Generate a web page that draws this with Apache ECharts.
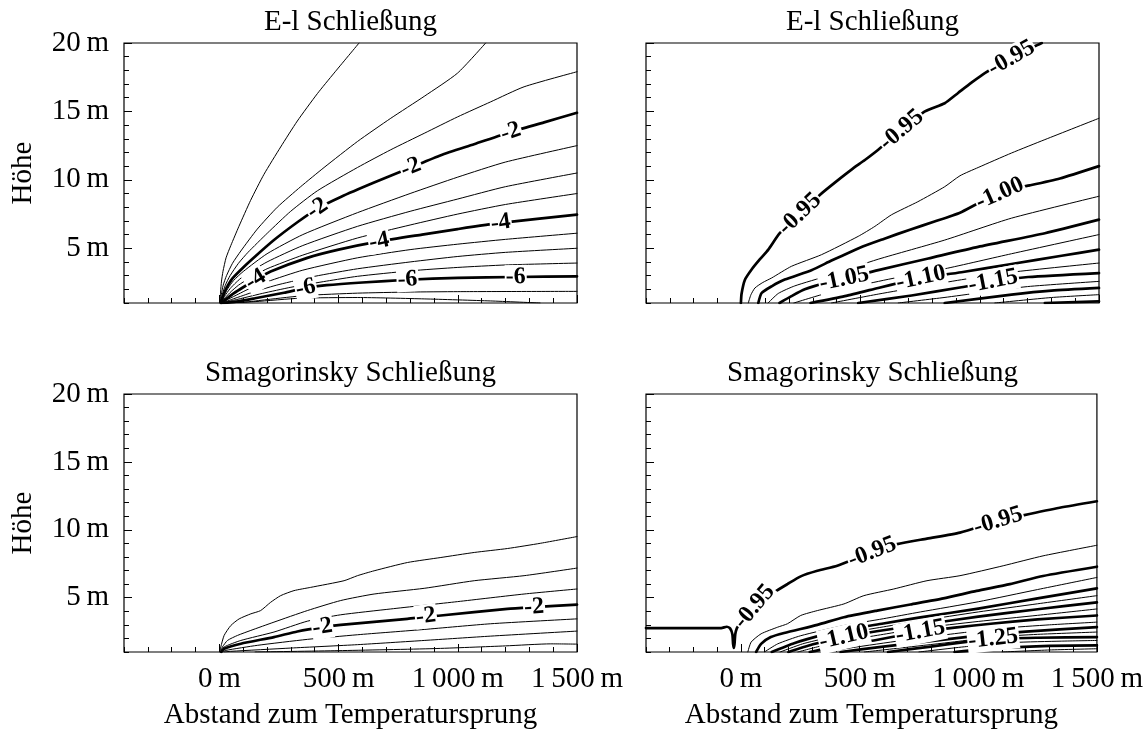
<!DOCTYPE html>
<html>
<head>
<meta charset="utf-8">
<script src="https://cdn.jsdelivr.net/npm/echarts@6/dist/echarts.min.js"></script>
<style>html,body{margin:0;padding:0;background:#fff}#c{width:1146px;height:731px}</style>
</head>
<body>
<div id="c"></div>
<script>
// ---------- tick labels and titles ----------
const xTickValues = [0, 500, 1000, 1500];
const xTickLabels = ['0\u2009m', '500\u2009m', '1\u2009000\u2009m', '1\u2009500\u2009m'];
const yTickValues = [5, 10, 15, 20];
const yTickLabels = ['5\u2009m', '10\u2009m', '15\u2009m', '20\u2009m'];
const panelTitles = ['E-l Schließung', 'E-l Schließung', 'Smagorinsky Schließung', 'Smagorinsky Schließung'];
const xAxisTitle = 'Abstand zum Temperatursprung';
const yAxisTitle = 'Höhe';

// ---------- panel 1: E-l, top left ----------
const levelsTL = [-0.5, -1, -1.5, -2, -2.5, -3, -3.5, -4, -4.5, -5, -5.5, -6, -6.5, -7];
const boldTL = [3, 7, 11];
const linesTL = [
  [[3,1.0],[5,1.8],[9,2.6],[15,3.3],[28,4.3],[48,5.2],[82,6.6],[131,8.5],[187,10.4],[257,12.4],[327,14.3],[411,16.3],[481,17.8],[586,20]],
  [[4,1],[8,1.6],[16,2.3],[30,3.0],[55,3.9],[90,4.8],[159,6.4],[243,8.0],[341,9.5],[439,10.9],[579,12.8],[719,14.5],[859,16.1],[999,17.8],[1117,20]],
  [[5,1],[12,1.6],[25,2.3],[45,3.0],[80,3.9],[120,4.7],[201,6.1],[299,7.7],[411,9.2],[579,10.9],[719,12.2],[859,13.4],[999,14.6],[1138,15.7],[1278,16.8],[1500,17.9]],
  [[6,1],[15,1.5],[30,2.1],[55,2.8],[100,3.6],[150,4.4],[229,5.6],[327,6.9],[411,7.9],[509,8.75],[649,9.8],[803,10.9],[929,11.8],[1068,12.6],[1222,13.5],[1362,14.2],[1500,14.9]],
  [[6,1.0],[18,1.5],[35,2.05],[60,2.65],[100,3.3],[200,4.6],[350,6.0],[579,7.6],[800,9.0],[1000,10.2],[1200,11.3],[1500,12.5]],
  [[7,1.0],[22,1.5],[45,2.05],[70,2.5],[100,2.95],[200,4.0],[350,5.2],[579,6.6],[800,7.7],[1000,8.6],[1200,9.5],[1500,10.5]],
  [[7,1.0],[25,1.4],[50,1.85],[80,2.3],[120,2.75],[200,3.5],[350,4.5],[579,5.75],[800,6.7],[1000,7.5],[1200,8.2],[1500,9.0]],
  [[8,1.0],[30,1.3],[60,1.7],[100,2.15],[152,2.7],[215,3.3],[369,4.3],[500,4.9],[670,5.5],[850,6.0],[999,6.4],[1180,6.85],[1500,7.46]],
  [[9,1.0],[40,1.3],[80,1.65],[120,2.0],[200,2.55],[350,3.4],[579,4.3],[800,4.9],[1000,5.3],[1200,5.65],[1500,6.1]],
  [[10,1.0],[50,1.25],[100,1.55],[150,1.85],[250,2.35],[400,2.95],[579,3.5],[800,4.0],[1000,4.4],[1200,4.7],[1500,5.0]],
  [[11,1.0],[60,1.2],[120,1.45],[180,1.7],[300,2.15],[450,2.6],[579,2.95],[800,3.35],[1000,3.6],[1200,3.78],[1500,3.92]],
  [[12,1.0],[70,1.1],[150,1.35],[271,1.75],[362,2.1],[450,2.3],[600,2.5],[789,2.7],[1000,2.84],[1243,2.9],[1500,2.95]],
  [[14,1.0],[100,1.05],[200,1.25],[362,1.55],[579,1.72],[800,1.8],[1000,1.83],[1500,1.85]],
  [[16,1.0],[150,1.1],[338,1.35],[579,1.4],[859,1.3],[1138,1.15],[1345,1.0]]
];
const labelsTL = [[3, [411, 803, 1222]], [7, [152, 670, 1180]], [11, [362, 789, 1243]]];

// ---------- panel 2: E-l, top right ----------
const levelsTR = [-0.95, -0.975, -1.0, -1.025, -1.05, -1.075, -1.1, -1.125, -1.15, -1.175, -1.2, -1.225, -1.25];
const boldTR = [0, 2, 4, 6, 8, 10, 12];
const linesTR = [
  [[-2,1.0],[1,1.7],[15,2.7],[43,3.45],[78,4.2],[113,4.9],[161,6.1],[245,7.5],[329,8.9],[392,9.8],[462,10.75],[518,11.45],[574,12.2],[672,13.65],[770,15.0],[853,15.6],[909,16.35],[965,17.1],[1021,17.8],[1133,18.9],[1231,19.76],[1260,20]],
  [[29,1.0],[40,1.6],[57,2.1],[90,2.5],[127,2.83],[210,3.68],[336,4.53],[490,5.87],[560,6.6],[630,7.45],[740,8.4],[853,9.5],[917,10.3],[993,10.9],[1133,11.96],[1273,12.94],[1500,14.5]],
  [[71,1.0],[85,1.73],[127,2.22],[182,2.71],[294,3.4],[378,4.1],[497,5.04],[600,5.7],[707,6.36],[810,6.95],[917,7.6],[1000,8.35],[1084,9.0],[1150,9.4],[1210,9.6],[1336,10.1],[1500,11.0]],
  [[112,1.0],[155,1.7],[224,2.25],[364,3.0],[574,4.2],[853,5.6],[1133,7.2],[1500,8.8]],
  [[160,1.0],[210,1.5],[266,2.0],[350,2.45],[431,2.75],[574,3.4],[784,4.25],[993,5.1],[1273,6.1],[1500,7.09]],
  [[220,1.0],[364,1.75],[500,2.3],[650,2.85],[853,3.5],[1133,4.6],[1500,6.0]],
  [[290,1.0],[434,1.5],[574,2.1],[680,2.55],[753,2.83],[923,3.25],[1133,3.85],[1343,4.45],[1500,4.9]],
  [[378,1.0],[574,1.65],[753,2.2],[923,2.7],[1133,3.25],[1500,3.92]],
  [[490,1.0],[714,1.55],[923,2.15],[1056,2.6],[1203,2.9],[1500,3.19]],
  [[658,1.0],[850,1.4],[1000,1.75],[1200,2.2],[1500,2.58]],
  [[853,1.0],[1133,1.61],[1300,1.9],[1500,2.1]],
  [[1063,1.0],[1300,1.4],[1500,1.61]],
  [[1273,1.0],[1500,1.12]]
];
const labelsTR = [[0, [245, 672, 1133]], [2, [1084]], [4, [431]], [6, [753]], [8, [1056]]];

// ---------- panel 3: Smagorinsky, bottom left ----------
const levelsBL = [-0.5, -1, -1.5, -2, -2.5, -3, -3.5];
const boldBL = [3];
const linesBL = [
  [[2,1.0],[6,1.37],[20,2.22],[48,2.95],[83,3.44],[132,3.81],[173,4.05],[215,4.66],[257,5.15],[313,5.52],[383,5.76],[523,6.25],[579,6.62],[649,6.98],[789,7.59],[929,7.96],[1069,8.33],[1208,8.62],[1348,9.01],[1500,9.5]],
  [[4,1.0],[13,1.37],[34,1.85],[76,2.22],[132,2.59],[229,3.2],[369,4.05],[509,4.79],[649,5.27],[859,5.69],[1069,6.25],[1278,6.62],[1500,7.18]],
  [[6,1.0],[20,1.37],[90,1.85],[229,2.47],[369,3.27],[509,3.74],[719,4.17],[999,4.71],[1278,5.27],[1500,5.64]],
  [[8,1.0],[20,1.24],[90,1.61],[229,2.1],[327,2.51],[432,2.83],[509,3.0],[789,3.44],[866,3.62],[929,3.69],[1208,4.17],[1320,4.3],[1500,4.49]],
  [[10,1.0],[27,1.12],[159,1.49],[369,1.93],[579,2.27],[859,2.66],[1138,3.08],[1500,3.44]],
  [[20,1.0],[48,1.05],[299,1.29],[579,1.54],[859,1.85],[1138,2.17],[1500,2.54]],
  [[150,1.0],[500,1.1],[900,1.25],[1200,1.45],[1390,1.6],[1500,1.58]]
];
const labelsBL = [[3, [432, 866, 1320]]];

// ---------- panel 4: Smagorinsky, bottom right ----------
const levelsBR = [-0.95, -0.975, -1.0, -1.025, -1.05, -1.075, -1.1, -1.125, -1.15, -1.175, -1.2, -1.225, -1.25, -1.275, -1.3, -1.325];
const boldBR = [0, 2, 4, 6, 8, 10, 12, 14];
const linesBR = [
  [[-400,2.76],[-83,2.76],[-60,2.86],[-45,2.72],[-36,2.3],[-33,1.6],[-30,1.3],[-27,1.6],[-24,2.3],[-18,2.72],[-8,3.0],[1,3.2],[57,4.35],[140,5.4],[196,6.0],[252,6.57],[322,6.98],[406,7.35],[553,8.35],[658,8.94],[784,9.35],[923,9.79],[1084,10.65],[1189,11.06],[1343,11.62],[1500,12.1]],
  [[29,1.0],[43,1.73],[85,2.34],[155,2.83],[196,3.08],[252,3.69],[322,4.05],[434,4.54],[518,5.15],[644,5.64],[784,6.25],[923,6.62],[1105,7.35],[1273,8.08],[1500,8.86]],
  [[64,1.0],[85,1.6],[126,2.1],[182,2.4],[322,3.0],[434,3.56],[574,4.05],[714,4.5],[853,4.95],[993,5.5],[1133,6.0],[1273,6.6],[1500,7.28]],
  [[99,1.0],[155,1.6],[252,2.2],[434,2.95],[600,3.45],[756,3.95],[1000,4.7],[1250,5.6],[1500,6.49]],
  [[130,1.0],[224,1.65],[364,2.35],[434,2.62],[600,3.1],[756,3.55],[1000,4.2],[1250,4.95],[1500,5.69]],
  [[165,1.0],[260,1.6],[364,2.05],[434,2.35],[600,2.85],[756,3.3],[1000,3.95],[1250,4.55],[1500,5.15]],
  [[200,1.0],[300,1.55],[434,2.1],[600,2.6],[756,3.0],[1000,3.6],[1250,4.15],[1500,4.66]],
  [[240,1.0],[350,1.5],[480,1.95],[600,2.3],[756,2.75],[1000,3.25],[1250,3.7],[1500,4.17]],
  [[290,1.0],[420,1.45],[560,1.85],[680,2.25],[756,2.5],[900,2.8],[1063,3.1],[1250,3.4],[1500,3.69]],
  [[350,1.0],[500,1.4],[700,1.9],[900,2.35],[1100,2.75],[1300,3.0],[1500,3.2]],
  [[420,1.0],[600,1.4],[800,1.8],[1000,2.2],[1063,2.3],[1200,2.5],[1500,2.83]],
  [[520,1.0],[700,1.35],[900,1.75],[1063,2.1],[1250,2.3],[1500,2.47]],
  [[620,1.0],[800,1.4],[950,1.75],[1063,1.97],[1250,2.05],[1500,2.1]],
  [[750,1.0],[950,1.4],[1150,1.7],[1350,1.8],[1500,1.85]],
  [[900,1.0],[1100,1.3],[1300,1.45],[1500,1.49]],
  [[1100,1.0],[1300,1.15],[1500,1.24]]
];
const labelsBR = [[0, [57, 553, 1084]], [6, [434]], [8, [756]], [12, [1063]]];

// ---------- chart ----------
const FONT = '"Liberation Serif","Times New Roman",Times,serif';
const GRIDS = [
  {left: 124, top: 43, width: 453, height: 260},
  {left: 646, top: 43, width: 453, height: 260},
  {left: 124, top: 394, width: 453, height: 260},
  {left: 646, top: 394, width: 453, height: 260}
];
const PANELS = [
  {levels: levelsTL, bold: boldTL, lines: linesTL, labels: labelsTL, digits: 0},
  {levels: levelsTR, bold: boldTR, lines: linesTR, labels: labelsTR, digits: 2},
  {levels: levelsBL, bold: boldBL, lines: linesBL, labels: labelsBL, digits: 0},
  {levels: levelsBR, bold: boldBR, lines: linesBR, labels: labelsBR, digits: 2}
];
const X_MIN = -400, X_MAX = 1500, Y_MIN = 1, Y_MAX = 20;

const chart = echarts.init(document.getElementById('c'), null, {renderer: 'canvas'});

const grid = GRIDS.map(g => Object.assign({
  show: true, borderColor: '#000', borderWidth: 1.2, backgroundColor: 'transparent', containLabel: false
}, g));

const title = panelTitles.map((t, i) => ({
  text: t,
  left: GRIDS[i].left + GRIDS[i].width / 2,
  top: i < 2 ? 8 : 359,
  textAlign: 'center',
  padding: 0,
  textStyle: {fontFamily: FONT, fontSize: 29, fontWeight: 'normal', color: '#000'}
}));

const xAxis = [], yAxis = [];
GRIDS.forEach((g, i) => {
  const bottomRow = i >= 2, leftCol = i % 2 === 0;
  xAxis.push({
    type: 'value', gridIndex: i, min: X_MIN, max: X_MAX, position: 'bottom',
    axisLine: {show: false, onZero: false}, splitLine: {show: false},
    axisTick: {show: true, inside: true, length: 8, customValues: xTickValues, lineStyle: {color: '#000', width: 1}},
    axisLabel: {show: bottomRow, customValues: xTickValues, margin: 13,
      formatter: v => xTickLabels[xTickValues.indexOf(v)] || '',
      fontFamily: FONT, fontSize: 29, color: '#000'},
    name: bottomRow ? xAxisTitle : '', nameLocation: 'middle', nameGap: 49,
    nameTextStyle: {fontFamily: FONT, fontSize: 29, color: '#000'}
  });
  xAxis.push({
    type: 'value', gridIndex: i, min: X_MIN, max: X_MAX, interval: 100, position: 'bottom',
    axisLine: {show: false, onZero: false}, splitLine: {show: false}, axisLabel: {show: false},
    axisTick: {show: true, inside: true, length: 5, lineStyle: {color: '#000', width: 1}}
  });
  yAxis.push({
    type: 'value', gridIndex: i, min: Y_MIN, max: Y_MAX, position: 'left',
    axisLine: {show: false, onZero: false}, splitLine: {show: false},
    axisTick: {show: true, inside: true, length: 8, customValues: yTickValues, lineStyle: {color: '#000', width: 1}},
    axisLabel: {show: leftCol, customValues: yTickValues, margin: 15,
      formatter: v => yTickLabels[yTickValues.indexOf(v)] || '',
      fontFamily: FONT, fontSize: 29, color: '#000'},
    name: leftCol ? yAxisTitle : '', nameLocation: 'middle', nameGap: 86,
    nameTextStyle: {fontFamily: FONT, fontSize: 29, color: '#000'}
  });
  yAxis.push({
    type: 'value', gridIndex: i, min: Y_MIN, max: Y_MAX, interval: 1, position: 'left',
    axisLine: {show: false, onZero: false}, splitLine: {show: false}, axisLabel: {show: false},
    axisTick: {show: true, inside: true, length: 5, lineStyle: {color: '#000', width: 1}}
  });
});

const series = [];
const firstSeriesOfPanel = [];
PANELS.forEach((p, pi) => {
  firstSeriesOfPanel.push(series.length);
  p.lines.forEach((pts, li) => {
    const isBold = p.bold.indexOf(li) >= 0;
    series.push({
      type: 'line', name: 'L' + pi + '_' + p.levels[li],
      xAxisIndex: 2 * pi, yAxisIndex: 2 * pi,
      data: pts, symbol: 'none', smooth: 0.2, silent: true, z: 2,
      lineStyle: {color: '#000', width: isBold ? 2.7 : 1.0, join: 'round', cap: 'round'}
    });
  });
});

function locate(pts, x) {
  for (let k = 0; k < pts.length - 1; k++) {
    const a = pts[k], b = pts[k + 1];
    if (a[0] !== b[0] && (x - a[0]) * (x - b[0]) <= 0) {
      const t = (x - a[0]) / (b[0] - a[0]);
      return {y: a[1] + t * (b[1] - a[1]), a: a, b: b};
    }
  }
  return null;
}

chart.setOption({
  animation: false,
  backgroundColor: '#fff',
  title: title, grid: grid, xAxis: xAxis, yAxis: yAxis, series: series
});

// contour labels, placed on their lines and rotated along them
PANELS.forEach((p, pi) => {
  const sIdx = firstSeriesOfPanel[pi];
  const items = [];
  p.labels.forEach(([li, xs]) => {
    const text = p.levels[li].toFixed(p.digits);
    xs.forEach(x => {
      const loc = locate(p.lines[li], x);
      if (!loc) return;
      const pa = chart.convertToPixel({seriesIndex: sIdx}, loc.a);
      const pb = chart.convertToPixel({seriesIndex: sIdx}, loc.b);
      const ang = Math.atan2(pa[1] - pb[1], pb[0] - pa[0]) * 180 / Math.PI;
      items.push({value: [x, loc.y], label: {formatter: text, rotate: ang}});
    });
  });
  series.push({
    type: 'scatter', xAxisIndex: 2 * pi, yAxisIndex: 2 * pi, silent: true, z: 5,
    symbol: 'circle', symbolSize: 1, itemStyle: {color: 'rgba(255,255,255,0)'},
    data: items,
    label: {show: true, position: 'inside', align: 'center', verticalAlign: 'middle',
      fontFamily: FONT, fontSize: 24, fontWeight: 'bold', color: '#000', opacity: 1,
      textBorderWidth: 0, textBorderColor: 'transparent', textShadowBlur: 0,
      backgroundColor: '#fff', padding: [0, 1, 0, 1]},
    emphasis: {disabled: true},
    labelLayout: {hideOverlap: false}
  });
});

chart.setOption({series: series});
</script>
</body>
</html>
